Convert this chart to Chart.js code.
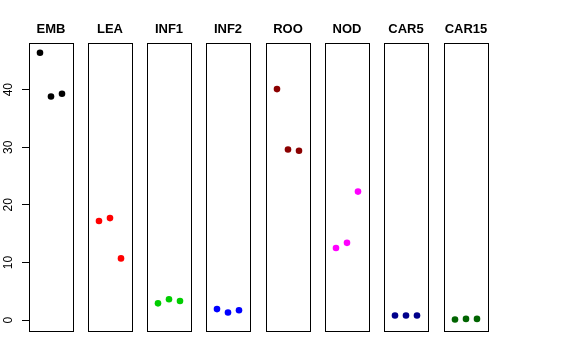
<!DOCTYPE html>
<html>
<head>
<meta charset="utf-8">
<script src="https://cdn.jsdelivr.net/npm/chart.js@4"></script>
<style>
  html, body { margin: 0; padding: 0; background: #fff; }
  #wrap { position: relative; width: 576px; height: 360px; overflow: hidden; }
  #wrap canvas { position: absolute; top: 0; }
</style>
</head>
<body>
<div id="wrap"></div>
<script>
// ─── Data ───────────────────────────────────────────────────────────────
const panels = ["EMB", "LEA", "INF1", "INF2", "ROO", "NOD", "CAR5", "CAR15"];
const xPos   = [1, 2, 3];
const EMB    = [46.4, 38.8, 39.3];
const LEA    = [17.2, 17.7, 10.7];
const INF1   = [2.9, 3.6, 3.3];
const INF2   = [1.9, 1.3, 1.7];
const ROO    = [40.1, 29.6, 29.4];
const NOD    = [12.5, 13.4, 22.3];
const CAR5   = [0.8, 0.8, 0.8];
const CAR15  = [0.1, 0.2, 0.2];
const yTicks = [0, 10, 20, 30, 40];

const series = [EMB, LEA, INF1, INF2, ROO, NOD, CAR5, CAR15];
const colors = ["#000000", "#ff0000", "#00cd00", "#0000ff",
                "#8b0000", "#ff00ff", "#00008b", "#006400"];

// ─── Layout (box left edges in px) ──────────────────────────────────────
const boxLeft = [29, 88, 147, 206, 266, 325, 384, 444];
const boxW = 44, axisW = 29, topH = 43, bottomH = 29;
const yMin = -1.9, yMax = 48.1;

Chart.defaults.font.family = "'Liberation Sans', Arial, sans-serif";
Chart.defaults.color = "#000";

const wrap = document.getElementById("wrap");

panels.forEach((name, k) => {
  const leftW = k === 0 ? axisW : 0;
  const cv = document.createElement("canvas");
  cv.width = leftW + boxW + 2;
  cv.height = 360;
  cv.style.left = (boxLeft[k] - leftW) + "px";
  wrap.appendChild(cv);

  const hidden = (pos, fitSize) => ({
    position: pos,
    display: true,
    grid: { display: false },
    ticks: { display: false },
    border: { display: true, color: "#000", width: 1 },
    afterFit: s => { if (s.isHorizontal()) s.height = fitSize; else s.width = fitSize; },
  });

  new Chart(cv, {
    type: "scatter",
    data: {
      datasets: [{
        data: series[k].map((v, i) => ({ x: xPos[i], y: v })),
        backgroundColor: colors[k],
        borderColor: colors[k],
        pointRadius: 3.3,
        borderWidth: 0,
      }],
    },
    options: {
      responsive: false,
      animation: false,
      devicePixelRatio: 1,
      layout: { padding: 0, autoPadding: false },
      plugins: { legend: { display: false }, tooltip: { enabled: false } },
      scales: {
        x: { type: "linear", min: 0, max: 4, ...hidden("bottom", bottomH) },
        x2: {
          type: "linear", min: 0, max: 4, ...hidden("top", topH),
          title: {
            display: true, text: name, color: "#000",
            font: { size: 13, weight: "bold" },
            padding: { top: 22, bottom: 0 },
          },
        },
        y: k === 0 ? {
          type: "linear", min: yMin, max: yMax, position: "left",
          afterBuildTicks: s => { s.ticks = yTicks.map(v => ({ value: v })); },
          afterFit: s => { s.width = axisW; },
          grid: { display: true, drawOnChartArea: false, drawTicks: true,
                  tickLength: 7, color: "#000" },
          border: { display: true, color: "#000", width: 1 },
          ticks: { minRotation: 90, maxRotation: 90, crossAlign: "center",
                   padding: 7, color: "#000", font: { size: 12 } },
        } : { type: "linear", min: yMin, max: yMax, ...hidden("left", 0) },
        y2: { type: "linear", min: yMin, max: yMax, ...hidden("right", 2) },
      },
    },
  });
});
</script>
</body>
</html>
